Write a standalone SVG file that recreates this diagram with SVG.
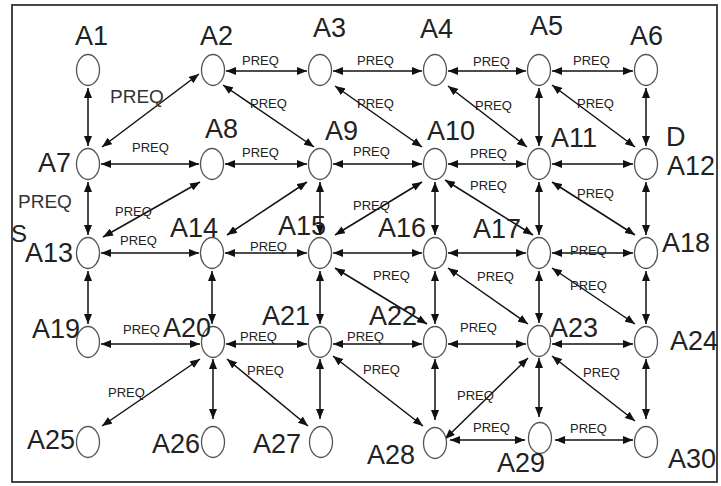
<svg xmlns="http://www.w3.org/2000/svg" width="721" height="486" viewBox="0 0 721 486">
  <style>
    .node ellipse { fill: #ffffff; stroke: #555555; stroke-width: 1.3; }
    .node text { font-family: "Liberation Sans", Arial, sans-serif; font-size: 27px; fill: #222222; }
    .edge { stroke: #111111; stroke-width: 1.5; fill: none; marker-start: url(#head); marker-end: url(#head); }
    .lbl { font-family: "Liberation Sans", Arial, sans-serif; font-size: 13px; fill: #222222; }
    .lbl-big { font-family: "Liberation Sans", Arial, sans-serif; font-size: 19px; fill: #333333; }
  </style>
  <defs>
    <marker id="head" viewBox="0 0 10 8" refX="10" refY="4" markerWidth="10" markerHeight="8" markerUnits="userSpaceOnUse" orient="auto-start-reverse">
      <path d="M0,0 L10,4 L0,8 z" fill="#111111"/>
    </marker>
  </defs>

  <rect x="0" y="0" width="721" height="486" fill="#ffffff"/>
  <!-- outer frame -->
  <rect x="12" y="5" width="705" height="477" fill="none" stroke="#333333" stroke-width="1.8"/>

  <g id="connectors">
    <!-- row 1 horizontals -->
    <line class="edge" x1="226" y1="71" x2="307" y2="71"/>
    <line class="edge" x1="333" y1="71" x2="422" y2="71"/>
    <line class="edge" x1="448" y1="71" x2="526" y2="71"/>
    <line class="edge" x1="552" y1="71" x2="633" y2="71"/>
    <!-- row 2 horizontals -->
    <line class="edge" x1="101" y1="164" x2="199" y2="164"/>
    <line class="edge" x1="225" y1="164" x2="307" y2="164"/>
    <line class="edge" x1="333" y1="164" x2="422" y2="164"/>
    <line class="edge" x1="448" y1="164" x2="526" y2="164"/>
    <line class="edge" x1="552" y1="164" x2="633" y2="164"/>
    <!-- row 3 horizontals -->
    <line class="edge" x1="101" y1="253" x2="199" y2="253"/>
    <line class="edge" x1="225" y1="253" x2="307" y2="253"/>
    <line class="edge" x1="333" y1="253" x2="422" y2="253"/>
    <line class="edge" x1="448" y1="253" x2="526" y2="253"/>
    <line class="edge" x1="552" y1="253" x2="633" y2="253"/>
    <!-- row 4 horizontals -->
    <line class="edge" x1="101" y1="344" x2="200" y2="344"/>
    <line class="edge" x1="226" y1="344" x2="307" y2="344"/>
    <line class="edge" x1="333" y1="344" x2="422" y2="344"/>
    <line class="edge" x1="448" y1="344" x2="526" y2="344"/>
    <line class="edge" x1="552" y1="344" x2="633" y2="344"/>
    <!-- row 5 horizontals -->
    <line class="edge" x1="450" y1="440" x2="525" y2="440"/>
    <line class="edge" x1="555" y1="440" x2="633" y2="440"/>

    <!-- verticals -->
    <line class="edge" x1="88" y1="88" x2="88" y2="146"/>
    <line class="edge" x1="539" y1="88" x2="539" y2="146"/>
    <line class="edge" x1="646" y1="88" x2="646" y2="146"/>
    <line class="edge" x1="88" y1="182" x2="88" y2="235"/>
    <line class="edge" x1="320" y1="182" x2="320" y2="235"/>
    <line class="edge" x1="435" y1="182" x2="435" y2="235"/>
    <line class="edge" x1="539" y1="182" x2="539" y2="235"/>
    <line class="edge" x1="646" y1="182" x2="646" y2="235"/>
    <line class="edge" x1="88" y1="271" x2="88" y2="324"/>
    <line class="edge" x1="212" y1="271" x2="212" y2="324"/>
    <line class="edge" x1="320" y1="271" x2="320" y2="324"/>
    <line class="edge" x1="435" y1="271" x2="435" y2="324"/>
    <line class="edge" x1="539" y1="271" x2="539" y2="323"/>
    <line class="edge" x1="646" y1="271" x2="646" y2="324"/>
    <line class="edge" x1="213" y1="359" x2="213" y2="419"/>
    <line class="edge" x1="320" y1="359" x2="320" y2="419"/>
    <line class="edge" x1="435" y1="359" x2="435" y2="420"/>
    <line class="edge" x1="539" y1="358" x2="539" y2="417"/>
    <line class="edge" x1="646" y1="359" x2="646" y2="419"/>

    <!-- diagonals -->
    <line class="edge" x1="102" y1="147" x2="199" y2="74"/>
    <line class="edge" x1="223" y1="85" x2="314" y2="147"/>
    <line class="edge" x1="335" y1="86" x2="422" y2="147"/>
    <line class="edge" x1="448" y1="86" x2="527" y2="147"/>
    <line class="edge" x1="552" y1="85" x2="635" y2="147"/>
    <line class="edge" x1="103" y1="237" x2="200" y2="182"/>
    <line class="edge" x1="227" y1="235" x2="307" y2="182"/>
    <line class="edge" x1="335" y1="235" x2="422" y2="182"/>
    <line class="edge" x1="445" y1="180" x2="533" y2="235"/>
    <line class="edge" x1="552" y1="182" x2="635" y2="235"/>
    <line class="edge" x1="335" y1="268" x2="427" y2="324"/>
    <line class="edge" x1="448" y1="268" x2="528" y2="324"/>
    <line class="edge" x1="552" y1="268" x2="635" y2="324"/>
    <line class="edge" x1="200" y1="359" x2="102" y2="426"/>
    <line class="edge" x1="227" y1="359" x2="308" y2="426"/>
    <line class="edge" x1="333" y1="356" x2="423" y2="426"/>
    <line class="edge" x1="445" y1="439" x2="528" y2="358"/>
    <line class="edge" x1="552" y1="356" x2="635" y2="421"/>
  </g>

  <g id="edge-labels">
    <text class="lbl-big" x="110" y="103">PREQ</text>
    <text class="lbl-big" x="18" y="208">PREQ</text>
    <text class="lbl" x="242" y="65">PREQ</text>
    <text class="lbl" x="357" y="65">PREQ</text>
    <text class="lbl" x="473" y="66">PREQ</text>
    <text class="lbl" x="573" y="65">PREQ</text>
    <text class="lbl" x="250" y="108">PREQ</text>
    <text class="lbl" x="357" y="108">PREQ</text>
    <text class="lbl" x="475" y="110">PREQ</text>
    <text class="lbl" x="577" y="108">PREQ</text>
    <text class="lbl" x="132" y="152">PREQ</text>
    <text class="lbl" x="242" y="157">PREQ</text>
    <text class="lbl" x="353" y="156">PREQ</text>
    <text class="lbl" x="470" y="158">PREQ</text>
    <text class="lbl" x="115" y="216">PREQ</text>
    <text class="lbl" x="120" y="245">PREQ</text>
    <text class="lbl" x="250" y="251">PREQ</text>
    <text class="lbl" x="353" y="210">PREQ</text>
    <text class="lbl" x="470" y="190">PREQ</text>
    <text class="lbl" x="577" y="198">PREQ</text>
    <text class="lbl" x="570" y="255">PREQ</text>
    <text class="lbl" x="477" y="281">PREQ</text>
    <text class="lbl" x="373" y="280">PREQ</text>
    <text class="lbl" x="570" y="290">PREQ</text>
    <text class="lbl" x="123" y="334">PREQ</text>
    <text class="lbl" x="240" y="341">PREQ</text>
    <text class="lbl" x="347" y="341">PREQ</text>
    <text class="lbl" x="460" y="332">PREQ</text>
    <text class="lbl" x="108" y="397">PREQ</text>
    <text class="lbl" x="247" y="375">PREQ</text>
    <text class="lbl" x="363" y="374">PREQ</text>
    <text class="lbl" x="457" y="400">PREQ</text>
    <text class="lbl" x="473" y="432">PREQ</text>
    <text class="lbl" x="583" y="377">PREQ</text>
    <text class="lbl" x="570" y="433">PREQ</text>
  </g>

  <!-- nodes -->
  <g id="A1" class="node"><ellipse cx="88" cy="70" rx="11.5" ry="15.5"/><text x="75" y="45">A1</text></g>
  <g id="A2" class="node"><ellipse cx="213" cy="70" rx="11.5" ry="15.5"/><text x="200" y="45">A2</text></g>
  <g id="A3" class="node"><ellipse cx="320" cy="70" rx="11.5" ry="15.5"/><text x="313" y="37">A3</text></g>
  <g id="A4" class="node"><ellipse cx="435" cy="70" rx="11.5" ry="15.5"/><text x="420" y="38">A4</text></g>
  <g id="A5" class="node"><ellipse cx="539" cy="70" rx="11.5" ry="15.5"/><text x="530" y="35">A5</text></g>
  <g id="A6" class="node"><ellipse cx="646" cy="70" rx="11.5" ry="15.5"/><text x="630" y="45">A6</text></g>

  <g id="A7" class="node"><ellipse cx="88" cy="164" rx="11.5" ry="15.5"/><text x="38" y="172">A7</text></g>
  <g id="A8" class="node"><ellipse cx="212" cy="164" rx="11.5" ry="15.5"/><text x="205" y="138">A8</text></g>
  <g id="A9" class="node"><ellipse cx="320" cy="164" rx="11.5" ry="15.5"/><text x="325" y="140">A9</text></g>
  <g id="A10" class="node"><ellipse cx="435" cy="164" rx="11.5" ry="15.5"/><text x="427" y="140">A10</text></g>
  <g id="A11" class="node"><ellipse cx="539" cy="164" rx="11.5" ry="15.5"/><text x="551" y="147">A11</text></g>
  <g id="A12" class="node"><ellipse cx="646" cy="164" rx="11.5" ry="15.5"/><text x="666" y="146">D</text><text x="667" y="175">A12</text></g>

  <g id="A13" class="node"><ellipse cx="88" cy="253" rx="11.5" ry="15.5"/><text x="11" y="242" style="font-size:24px">S</text><text x="25" y="262">A13</text></g>
  <g id="A14" class="node"><ellipse cx="212" cy="253" rx="11.5" ry="15.5"/><text x="170" y="237">A14</text></g>
  <g id="A15" class="node"><ellipse cx="320" cy="253" rx="11.5" ry="15.5"/><text x="278" y="235">A15</text></g>
  <g id="A16" class="node"><ellipse cx="435" cy="253" rx="11.5" ry="15.5"/><text x="378" y="237">A16</text></g>
  <g id="A17" class="node"><ellipse cx="539" cy="253" rx="11.5" ry="15.5"/><text x="473" y="238">A17</text></g>
  <g id="A18" class="node"><ellipse cx="646" cy="253" rx="11.5" ry="15.5"/><text x="662" y="252">A18</text></g>

  <g id="A19" class="node"><ellipse cx="88" cy="342" rx="11.5" ry="15.5"/><text x="32" y="338">A19</text></g>
  <g id="A20" class="node"><ellipse cx="213" cy="342" rx="11.5" ry="15.5"/><text x="163" y="337">A20</text></g>
  <g id="A21" class="node"><ellipse cx="320" cy="342" rx="11.5" ry="15.5"/><text x="262" y="325">A21</text></g>
  <g id="A22" class="node"><ellipse cx="435" cy="342" rx="11.5" ry="15.5"/><text x="369" y="325">A22</text></g>
  <g id="A23" class="node"><ellipse cx="539" cy="341" rx="11.5" ry="15.5"/><text x="550" y="337">A23</text></g>
  <g id="A24" class="node"><ellipse cx="646" cy="342" rx="11.5" ry="15.5"/><text x="670" y="350">A24</text></g>

  <g id="A25" class="node"><ellipse cx="88" cy="442" rx="11.5" ry="15.5"/><text x="27" y="449">A25</text></g>
  <g id="A26" class="node"><ellipse cx="213" cy="442" rx="11.5" ry="15.5"/><text x="152" y="453">A26</text></g>
  <g id="A27" class="node"><ellipse cx="321" cy="442" rx="11.5" ry="15.5"/><text x="253" y="453">A27</text></g>
  <g id="A28" class="node"><ellipse cx="435" cy="443" rx="11.5" ry="15.5"/><text x="367" y="464">A28</text></g>
  <g id="A29" class="node"><ellipse cx="540" cy="438" rx="11.5" ry="15.5"/><text x="497" y="472">A29</text></g>
  <g id="A30" class="node"><ellipse cx="646" cy="442" rx="11.5" ry="15.5"/><text x="668" y="468">A30</text></g>
</svg>
